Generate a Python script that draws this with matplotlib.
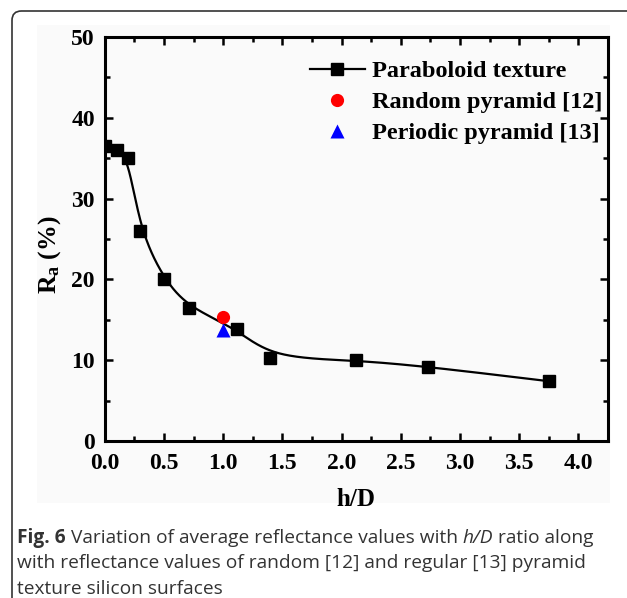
import numpy as np
import matplotlib
matplotlib.use("Agg")
import matplotlib.pyplot as plt
from matplotlib.patches import FancyBboxPatch, Rectangle
from matplotlib.ticker import MultipleLocator

# ---------------- data ----------------
hd = [0.0, 0.1, 0.2, 0.3, 0.5, 0.71, 1.12, 1.40, 2.12, 2.73, 3.75]
ra = [36.5, 36.0, 35.0, 26.0, 20.0, 16.5, 13.9, 10.3, 10.0, 9.2, 7.4]
random_x = [1.0]
random_y = [15.3]
periodic_x = [1.0]
periodic_y = [13.7]
labels = ["Paraboloid texture", "Random pyramid [12]", "Periodic pyramid [13]"]
xticks = [0.0, 0.5, 1.0, 1.5, 2.0, 2.5, 3.0, 3.5, 4.0]
yticks = [0, 10, 20, 30, 40, 50]


def bspline(x, y, n=60):
    """Uniform cubic B-spline using the data points as control points (clamped ends)."""
    P = np.column_stack([x, y]).astype(float)
    P = np.vstack([P[0], P[0], P, P[-1], P[-1]])
    t = np.linspace(0, 1, n, endpoint=False)
    b0 = (1 - t) ** 3 / 6
    b1 = (3 * t**3 - 6 * t**2 + 4) / 6
    b2 = (-3 * t**3 + 3 * t**2 + 3 * t + 1) / 6
    b3 = t**3 / 6
    segs = []
    for i in range(len(P) - 3):
        segs.append(np.outer(b0, P[i]) + np.outer(b1, P[i + 1])
                    + np.outer(b2, P[i + 2]) + np.outer(b3, P[i + 3]))
    segs.append(P[-1][None, :])
    C = np.vstack(segs)
    return C[:, 0], C[:, 1]


W, H = 627, 598
plt.rcParams["mathtext.default"] = "regular"
fig = plt.figure(figsize=(W / 100, H / 100), dpi=100)

# plot-area background and outer frame
fig.patches.append(Rectangle((37 / W, 1 - 503 / H), (610 - 37) / W, (503 - 25) / H,
                             transform=fig.transFigure, facecolor="#fafafa",
                             edgecolor="none", zorder=0))
fig.patches.append(FancyBboxPatch((12 / W, -0.2), 1.2, 1 - 11 / H + 0.2,
                                  boxstyle="round,pad=0,rounding_size=0.015",
                                  transform=fig.transFigure, facecolor="none",
                                  edgecolor="#333333", linewidth=1.2, zorder=1,
                                  mutation_aspect=W / H))

ax = fig.add_axes([104.7 / W, 1 - 441 / H, (608 - 104.7) / W, (441 - 37) / H])
ax.set_zorder(3)
ax.set_facecolor("#fafafa")

serif = "Liberation Serif"

cx, cy = bspline(hd, ra)
ax.plot(cx, cy, color="black", lw=1.6, zorder=3)
ax.plot(hd, ra, "s", color="black", ms=8.5, zorder=4)
h1, = ax.plot([], [], "-s", color="black", lw=1.6, ms=8.5)
h2, = ax.plot(random_x, random_y, "o", color="red", ms=9.5, zorder=5, mec="none")
h3, = ax.plot(periodic_x, periodic_y, "^", color="blue", ms=10, zorder=5, mec="none")

ax.set_xlim(0, 4.25)
ax.set_ylim(0, 50)
ax.set_xticks(xticks)
ax.set_yticks(yticks)
ax.set_xticklabels([f"{v:.1f}" for v in xticks])
ax.set_yticklabels([str(v) for v in yticks])
ax.xaxis.set_minor_locator(MultipleLocator(0.25))
ax.yaxis.set_minor_locator(MultipleLocator(5))
ax.tick_params(which="both", direction="in", top=True, right=True, width=1.8)
ax.tick_params(which="major", length=6)
ax.tick_params(which="minor", length=3.6)
ax.tick_params(axis="x", which="major", pad=8.5)
ax.tick_params(axis="y", which="major", pad=7)
for s in ax.spines.values():
    s.set_linewidth(2.2)
for lab in ax.get_xticklabels() + ax.get_yticklabels():
    lab.set_fontfamily(serif)
    lab.set_fontweight("bold")
    lab.set_fontsize(17)

ax.set_xlabel("h/D", fontfamily=serif, fontweight="bold", fontsize=18, labelpad=10)
ax.set_ylabel("R$_a$ (%)", fontfamily=serif, fontweight="bold", fontsize=18.5)
ax.yaxis.set_label_coords(-0.082, 0.46)

ax.legend([h1, h2, h3], labels, loc="upper left", bbox_to_anchor=(0.383, 0.973),
          frameon=False, borderpad=0, handlelength=2.26, handletextpad=0.3,
          labelspacing=0.37, prop={"family": serif, "weight": "bold", "size": 17.5})

# caption
cap_font = "Open Sans"
cc = "#333333"
fs = 13.8
x0 = 17
y1 = 1 - 543 / H
parts = [("Fig. 6", "bold", "normal"),
         (" Variation of average reflectance values with ", "normal", "normal"),
         ("h/D", "normal", "italic"),
         (" ratio along", "normal", "normal")]
texts = [fig.text(x0 / W, y1, s, fontfamily=cap_font, fontweight=wgt, fontstyle=sty,
                  fontsize=fs, color=cc, va="baseline") for s, wgt, sty in parts]
fig.canvas.draw()
r = fig.canvas.get_renderer()
x = x0
for tt in texts:
    tt.set_position((x / W, y1))
    x += tt.get_window_extent(r).width
fig.text(x0 / W, 1 - 568.5 / H, "with reflectance values of random [12] and regular [13] pyramid",
         fontfamily=cap_font, fontsize=fs, color=cc, va="baseline")
fig.text(x0 / W, 1 - 593.5 / H, "texture silicon surfaces",
         fontfamily=cap_font, fontsize=fs, color=cc, va="baseline")

fig.savefig("out.png", dpi=100)
